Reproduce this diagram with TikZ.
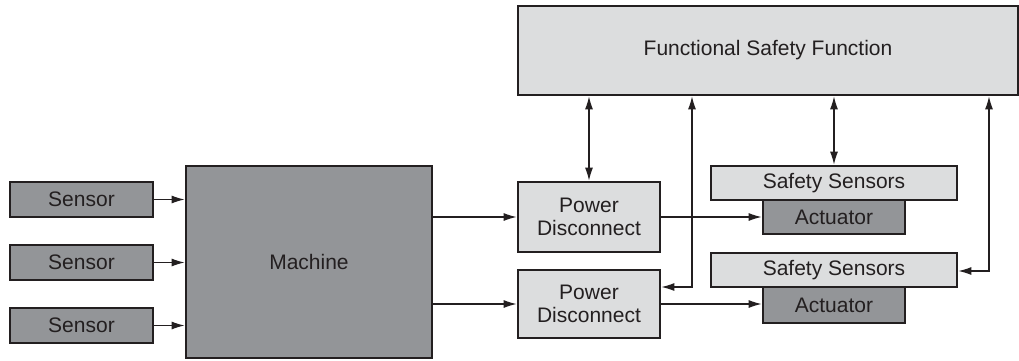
\documentclass[tikz,border=0pt]{standalone}
\usepackage{fontspec}
\setmainfont{Liberation Sans}
\usetikzlibrary{arrows.meta}
\definecolor{boxdark}{HTML}{939598}
\definecolor{boxlight}{HTML}{DCDDDE}
\definecolor{edge}{HTML}{231F20}
\tikzset{
  blk/.style={draw=edge, line width=1.35pt, inner sep=0pt, align=center, text=edge,
    font=\fontsize{10.5}{11.8}\selectfont},
  darkblk/.style={blk, fill=boxdark},
  lightblk/.style={blk, fill=boxlight},
  wire/.style={draw=edge, line width=0.6pt},
  >={Latex[length=6.5pt,width=4pt]},
}

\begin{document}
\begin{tikzpicture}[x=0.5pt,y=-0.5pt]
  \useasboundingbox (0,0) rectangle (1019,360);
  % machine side
  \foreach \i/\y in {1/199.5,2/262.5,3/325.5} {
    \node[darkblk, minimum width=71.5pt, minimum height=17.5pt] (sensor\i) at (81.5,\y) {Sensor};
  }
  \node[darkblk, minimum width=123pt, minimum height=96pt] (machine) at (309,262) {Machine};
  \foreach \i in {1,2,3} { \draw[wire,->] (sensor\i.east) -- (sensor\i.east -| machine.west); }
  % safety side
  \node[lightblk, minimum width=250pt, minimum height=44.5pt] (fsf) at (768,50.5) {Functional Safety Function};
  \node[lightblk, minimum width=71pt, minimum height=35pt] (pd1) at (589,217) {Power\\Disconnect};
  \node[lightblk, minimum width=71pt, minimum height=34pt] (pd2) at (589,304) {Power\\Disconnect};
  \node[lightblk, minimum width=123pt, minimum height=17pt] (ss1) at (834,183) {Safety Sensors};
  \node[darkblk, minimum width=71pt, minimum height=17pt] (act1) at (834,217) {Actuator};
  \node[lightblk, minimum width=123pt, minimum height=17pt] (ss2) at (834,270) {Safety Sensors};
  \node[darkblk, minimum width=71pt, minimum height=18pt] (act2) at (834,305) {Actuator};
  \draw[wire,->] (machine.east |- pd1.west) -- (pd1.west);
  \draw[wire,->] (machine.east |- pd2.west) -- (pd2.west);
  \draw[wire,->] (pd1.east) -- (pd1.east -| act1.west);
  \draw[wire,->] (pd2.east) -- (pd2.east -| act2.west);
  \draw[wire,<->] (fsf.south -| pd1.north) -- (pd1.north);
  \draw[wire,<->] (fsf.south -| ss1.north) -- (ss1.north);
  \coordinate (bus1) at (692,287);
  \draw[wire,<->] (bus1 -| pd2.east) -- (bus1) -- (bus1 |- fsf.south);
  \coordinate (bus2) at (989,271);
  \draw[wire,<->] (bus2 -| ss2.east) -- (bus2) -- (bus2 |- fsf.south);
\end{tikzpicture}
\end{document}
